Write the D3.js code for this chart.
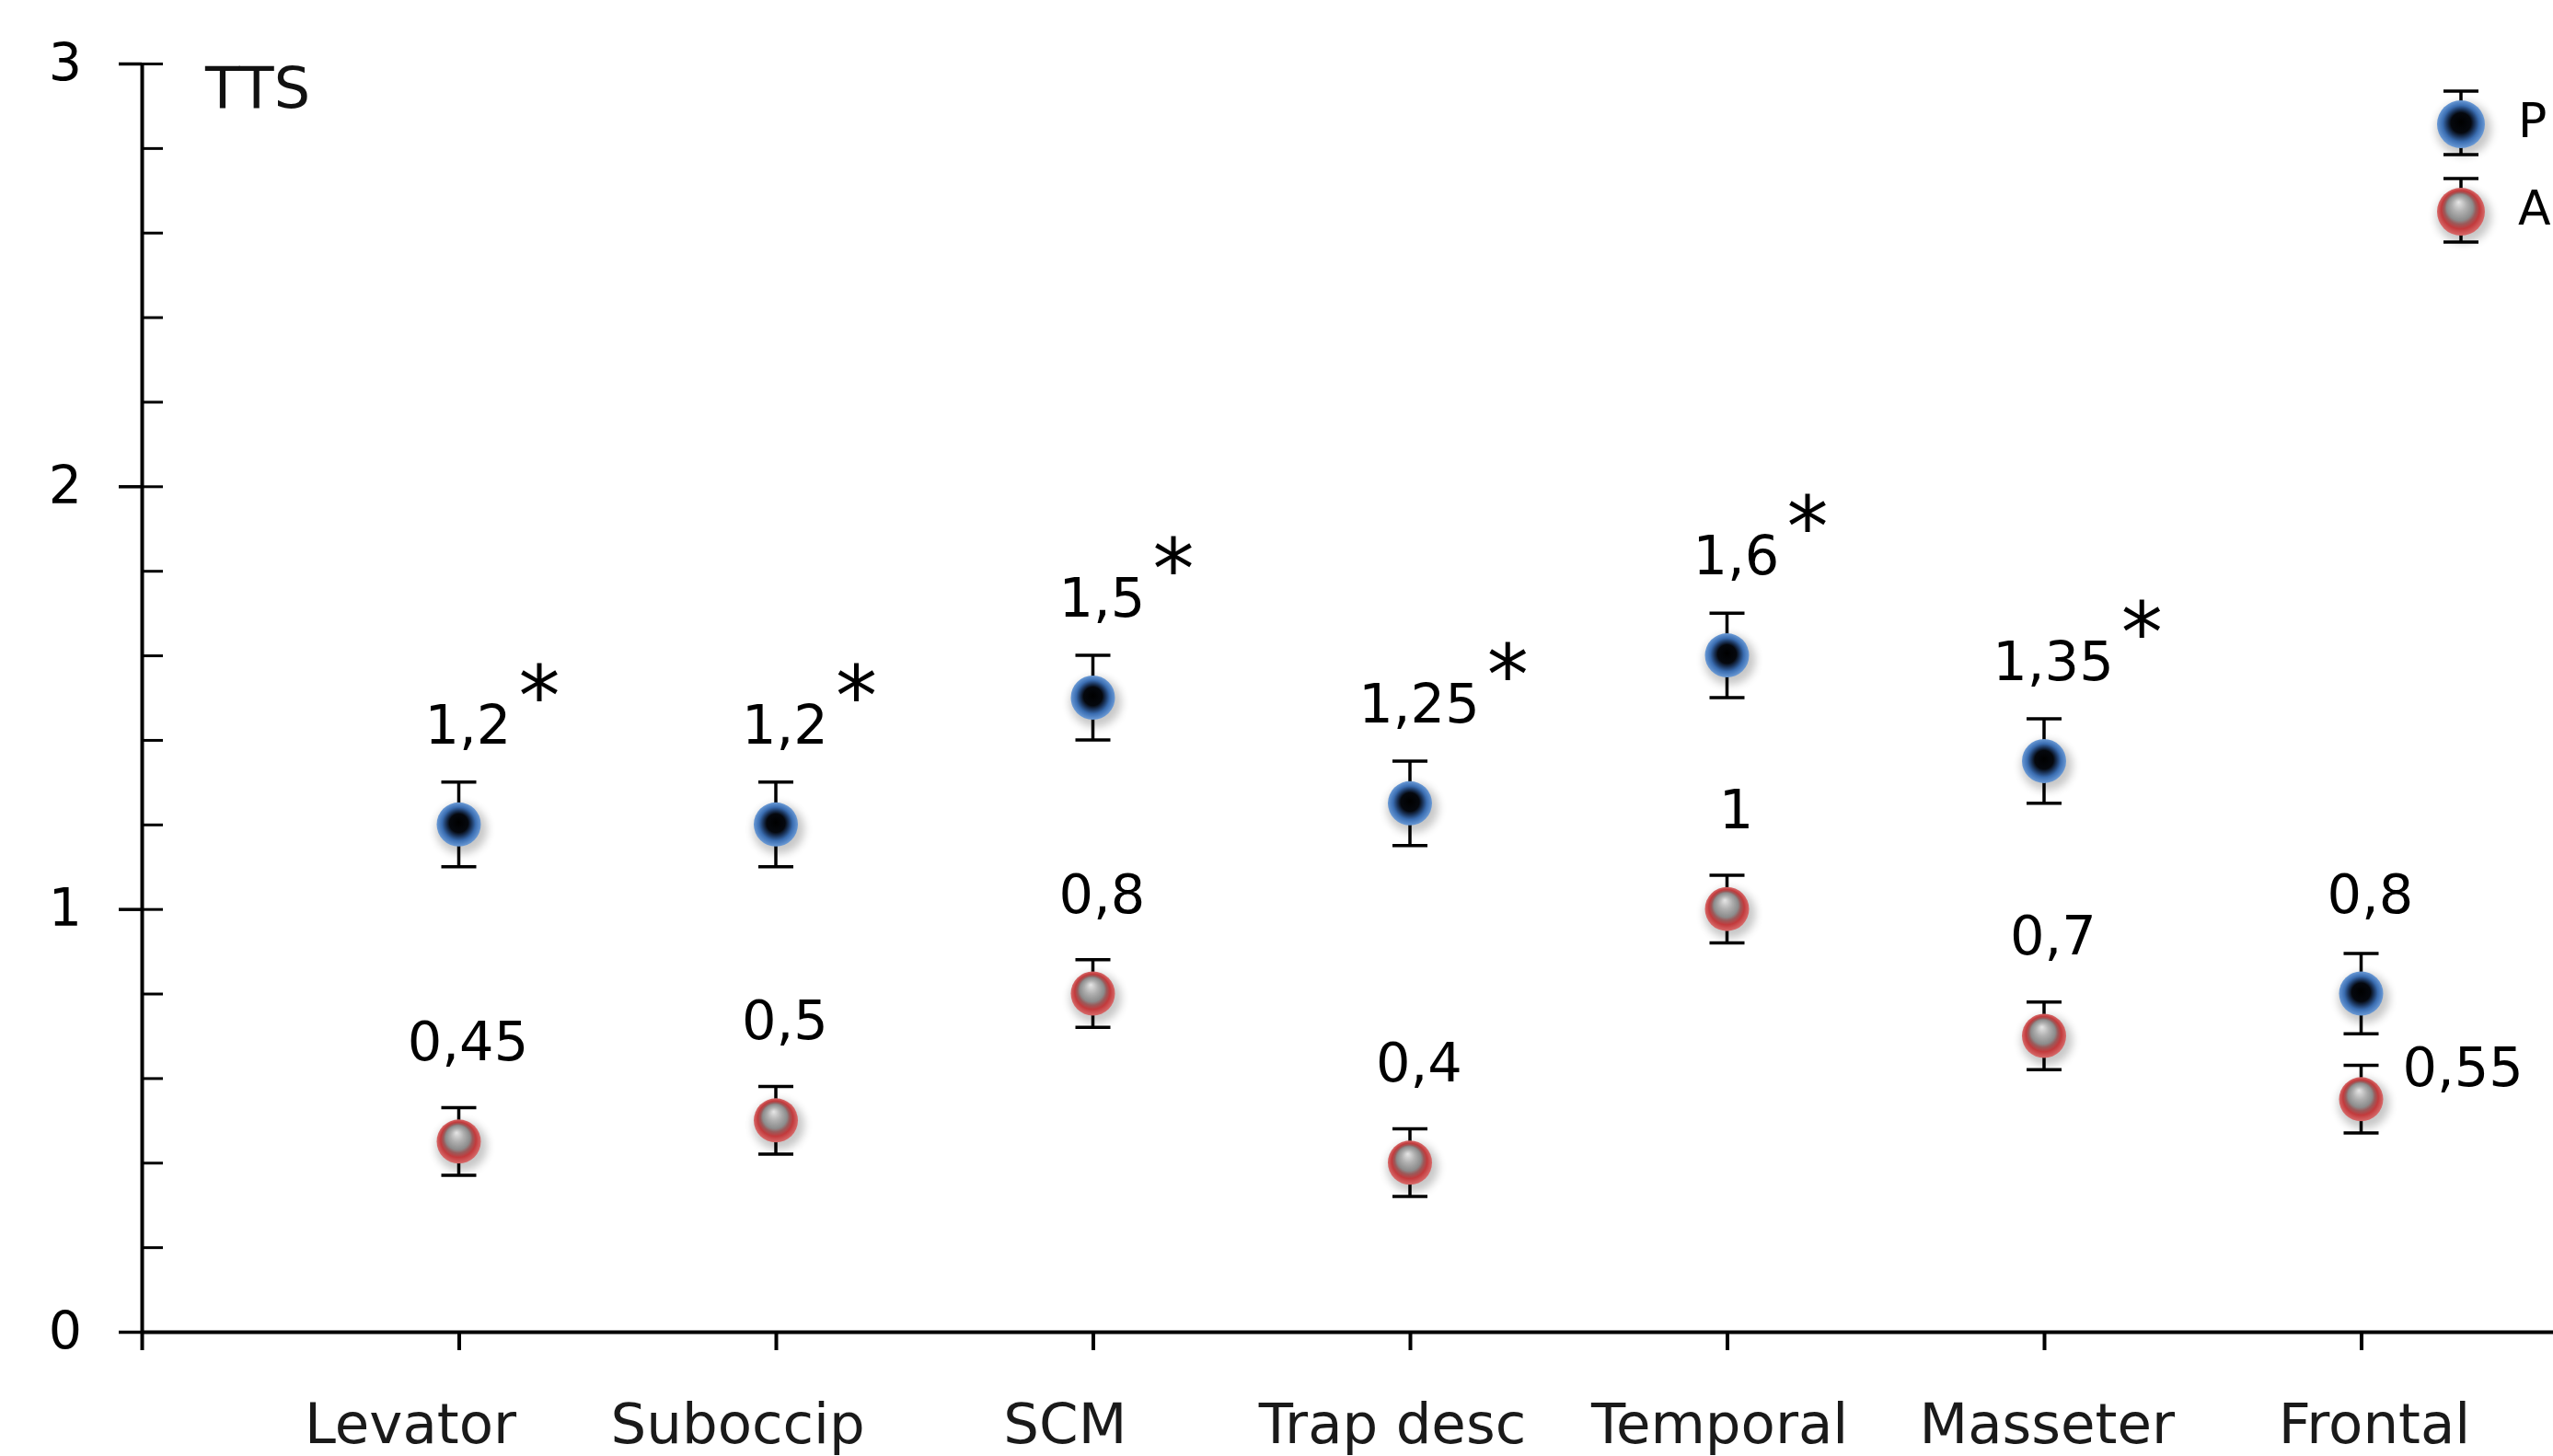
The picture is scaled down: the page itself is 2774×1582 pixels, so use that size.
<!DOCTYPE html>
<html lang="en">
<head>
    <meta charset="UTF-8">
    <title>TTS</title>
    <script src="https://d3js.org/d3.v7.min.js"></script>
    <style>
        body { margin: 0; background: #fff; }
        text { font-family: "DejaVu Sans", Verdana, sans-serif; }
    </style>
</head>
<body>
    <svg id="chart" width="2774" height="1582"></svg>
    <script>
        const categories = ["Levator", "Suboccip", "SCM", "Trap desc", "Temporal", "Masseter", "Frontal"];
        const seriesP = [1.2, 1.2, 1.5, 1.25, 1.6, 1.35, 0.8];
        const errorP = [0.1, 0.1, 0.1, 0.1, 0.1, 0.1, 0.095];
        const seriesA = [0.45, 0.5, 0.8, 0.4, 1, 0.7, 0.55];
        const errorA = [0.08, 0.08, 0.08, 0.08, 0.08, 0.08, 0.08];
        const significant = [true, true, true, true, true, true, false];
        const yTicks = [0, 1, 2, 3];
        const legendNames = ["P", "A"];

        const svg = d3.select("#chart");
        const width = +svg.attr("width");
        const height = +svg.attr("height");

        const x = d3.scaleLinear().domain([0, 8]).range([154, 2910]);
        const y = d3.scaleLinear().domain([0, 3]).range([1447, 69]);
        // category names sit on a slightly wider spacing than the ticks
        const xLabel = d3.scaleLinear().domain([1, 7]).range([446, 2580]);

        // gradients for the shiny markers
        const defs = svg.append("defs");
        const blue = defs.append("radialGradient").attr("id", "gBlue")
            .attr("cx", "50%").attr("cy", "50%").attr("r", "50%").attr("fx", "50%").attr("fy", "45%");
        [["0%", "#000"], ["42%", "#05080e"], ["58%", "#1b355c"], ["76%", "#3a6db1"], ["100%", "#6a9ad6"]]
            .forEach(s => blue.append("stop").attr("offset", s[0]).attr("stop-color", s[1]));
        const red = defs.append("radialGradient").attr("id", "gRed")
            .attr("cx", "50%").attr("cy", "50%").attr("r", "50%").attr("fx", "45%").attr("fy", "30%");
        [["0%", "#e6e6e6"], ["30%", "#b0b0b0"], ["55%", "#8c8c8c"], ["66%", "#9a5a5a"], ["80%", "#c23a3c"], ["100%", "#d76a6a"]]
            .forEach(s => red.append("stop").attr("offset", s[0]).attr("stop-color", s[1]));
        defs.append("filter").attr("id", "shadow").attr("x", "-50%").attr("y", "-50%").attr("width", "200%").attr("height", "200%")
            .append("feGaussianBlur").attr("stdDeviation", 5);

        // axes
        const xAxis = svg.append("g")
            .attr("transform", `translate(0,${y(0)})`)
            .call(d3.axisBottom(x).tickValues(d3.range(0, 8)).tickSize(20).tickSizeOuter(0).tickFormat(""));
        xAxis.select(".domain").attr("stroke", "#000").attr("stroke-width", 4);
        xAxis.selectAll(".tick line").attr("stroke", "#000").attr("stroke-width", 4);

        const yAxis = svg.append("g")
            .attr("transform", `translate(${x(0)},0)`)
            .call(d3.axisLeft(y).tickValues(yTicks).tickFormat(d3.format("d"))
                .tickSize(25).tickSizeOuter(0).tickPadding(40));
        yAxis.select(".domain").attr("stroke", "#000").attr("stroke-width", 4);
        yAxis.selectAll(".tick line").attr("stroke", "#000").attr("stroke-width", 3.5);
        yAxis.selectAll(".tick text")
            .attr("font-family", "DejaVu Sans")
            .attr("font-size", 57).attr("fill", "#000");

        const yMinor = svg.append("g")
            .attr("transform", `translate(${x(0)},0)`)
            .call(d3.axisRight(y).tickValues(d3.range(0.2, 3.01, 0.2)).tickSize(23).tickSizeOuter(0).tickFormat(""));
        yMinor.select(".domain").remove();
        yMinor.selectAll(".tick line").attr("stroke", "#000").attr("stroke-width", 3);

        svg.append("text")
            .attr("x", 223).attr("y", 117)
            .attr("font-size", 62)
            .attr("fill", "#111")
            .text("TTS");

        // category labels
        svg.append("g").selectAll("text")
            .data(categories)
            .join("text")
            .attr("x", (d, i) => xLabel(i + 1))
            .attr("y", 1568)
            .attr("text-anchor", "middle")
            .attr("font-size", 61)
            .attr("fill", "#1a1a1a")
            .text(d => d);

        const series = [
            {name: legendNames[0], values: seriesP, errors: errorP, fill: "url(#gBlue)"},
            {name: legendNames[1], values: seriesA, errors: errorA, fill: "url(#gRed)"}
        ];

        function drawMarker(g, cx, cy, r, fill) {
            g.append("ellipse")
                .attr("cx", cx + 3).attr("cy", cy + 5)
                .attr("rx", r + 4).attr("ry", r + 3)
                .attr("fill", "#000").attr("opacity", 0.22)
                .attr("filter", "url(#shadow)");
            g.append("circle")
                .attr("cx", cx).attr("cy", cy).attr("r", r)
                .attr("fill", fill);
        }

        function drawWhisker(g, cx, top, bottom, cap) {
            g.append("line").attr("x1", cx).attr("x2", cx).attr("y1", top).attr("y2", bottom)
                .attr("stroke", "#000").attr("stroke-width", 3.5);
            [top, bottom].forEach(yy => g.append("line")
                .attr("x1", cx - cap / 2).attr("x2", cx + cap / 2).attr("y1", yy).attr("y2", yy)
                .attr("stroke", "#000").attr("stroke-width", 3.5));
        }

        const fmt = v => String(v).replace(".", ",");

        series.forEach((s, si) => {
            const g = svg.append("g");
            s.values.forEach((v, i) => {
                const cx = x(i + 1);
                drawWhisker(g, cx, y(v + s.errors[i]), y(v - s.errors[i]), 38);
                drawMarker(g, cx, y(v), 24, s.fill);
            });

            // value labels
            s.values.forEach((v, i) => {
                const cx = x(i + 1);
                const sideways = si === 1 && i === s.values.length - 1;
                const label = g.append("text")
                    .attr("x", sideways ? cx + 45 : cx + 10)
                    .attr("y", sideways ? y(v) - 14 : y(v) - 88)
                    .attr("text-anchor", sideways ? "start" : "middle")
                    .attr("font-size", 59)
                    .attr("fill", "#000")
                    .text(fmt(v));
                if (si === 0 && significant[i]) {
                    const w = label.node().getComputedTextLength();
                    g.append("text")
                        .attr("x", cx + 10 + w / 2 + 8)
                        .attr("y", y(v) - 88 - 20)
                        .attr("font-size", 90)
                        .attr("fill", "#000")
                        .text("*");
                }
            });
        });

        // legend in the top right corner
        const legend = svg.append("g");
        series.forEach((s, i) => {
            const cy = 135 + i * 95;
            drawWhisker(legend, 2674, cy - 36, cy + 33, 38);
            drawMarker(legend, 2674, cy, 26, s.fill);
            legend.append("text")
                .attr("x", 2736).attr("y", cy + 14)
                .attr("font-size", 52)
                .attr("fill", "#000")
                .text(s.name);
        });
    </script>
</body>
</html>
